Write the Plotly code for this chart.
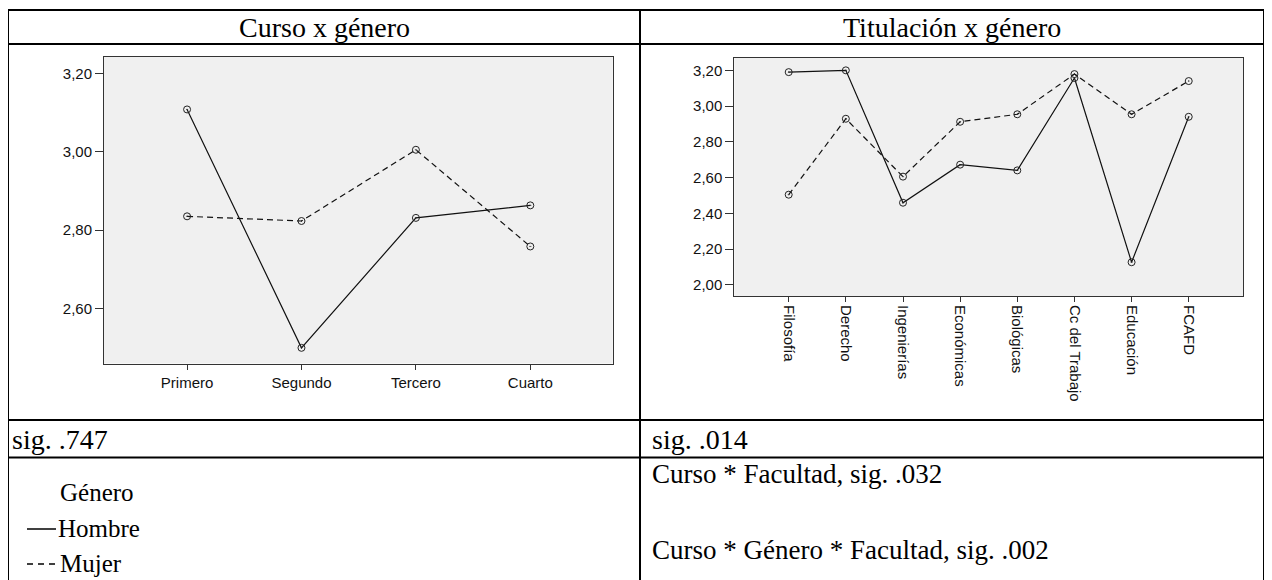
import plotly.graph_objects as go

W, H = 1272, 580
OFF = 8  # page body margin

# ---- data ----
cursos = ["Primero", "Segundo", "Tercero", "Cuarto"]
curso_hombre = [3.108, 2.499, 2.831, 2.863]
curso_mujer = [2.835, 2.823, 3.005, 2.758]

titulaciones = ["Filosofía", "Derecho", "Ingenierías", "Económicas",
                "Biológicas", "Cc del Trabajo", "Educación", "FCAFD"]
tit_hombre = [3.190, 3.200, 2.459, 2.672, 2.640, 3.157, 2.126, 2.940]
tit_mujer = [2.504, 2.929, 2.605, 2.912, 2.954, 3.179, 2.954, 3.140]

left_ticks = [2.60, 2.80, 3.00, 3.20]
right_ticks = [2.00, 2.20, 2.40, 2.60, 2.80, 3.00, 3.20]

titles = ["Curso x género", "Titulación x género"]
sig_texts = ["sig. .747", "sig. .014"]
notes = ["Curso * Facultad, sig. .032", "Curso * Género * Facultad, sig. .002"]
legend_title = "Género"
series_names = ["Hombre", "Mujer"]


def px(x):
    return (x - OFF) / W


def py(y):
    return 1 - (y - OFF) / H


SERIF = "Liberation Serif, Times New Roman, serif"
SANS = "Liberation Sans, Arial, sans-serif"

fig = go.Figure()

marker = dict(symbol="circle-open-dot", size=7, color="#222", line=dict(width=1, color="#222"))

fig.add_trace(go.Scatter(x=cursos, y=curso_hombre, mode="lines+markers", name=series_names[0],
                         line=dict(color="#111", width=1.2), marker=marker, xaxis="x", yaxis="y"))
fig.add_trace(go.Scatter(x=cursos, y=curso_mujer, mode="lines+markers", name=series_names[1],
                         line=dict(color="#111", width=1.2, dash="6px,4px"), marker=marker, xaxis="x", yaxis="y"))
fig.add_trace(go.Scatter(x=titulaciones, y=tit_hombre, mode="lines+markers", name=series_names[0],
                         line=dict(color="#111", width=1.2), marker=marker, xaxis="x2", yaxis="y2"))
fig.add_trace(go.Scatter(x=titulaciones, y=tit_mujer, mode="lines+markers", name=series_names[1],
                         line=dict(color="#111", width=1.2, dash="6px,4px"), marker=marker, xaxis="x2", yaxis="y2"))

axis_common = dict(showgrid=False, zeroline=False, showline=True, linecolor="#333", linewidth=1,
                   mirror=True, ticks="outside", tickcolor="#333",
                   tickfont=dict(family=SANS, size=15, color="#111"))

fig.update_layout(
    width=W, height=H, margin=dict(l=0, r=0, t=0, b=0),
    paper_bgcolor="white", plot_bgcolor="#f0f0f0",
    showlegend=False, separators=",.",
    xaxis=dict(domain=[px(104), px(612.7)], range=[-0.726, 3.72], type="category",
               anchor="y", ticklen=5, **axis_common),
    yaxis=dict(domain=[py(363.5), py(57)], range=[2.459, 3.242], tickvals=left_ticks,
               tickformat=".2f", anchor="x", ticklen=8, **axis_common),
    xaxis2=dict(domain=[px(734.3), px(1243.3)], range=[-0.952, 7.955], type="category",
                tickangle=90, anchor="y2", ticklen=5, **axis_common),
    yaxis2=dict(domain=[py(296), py(58)], range=[1.937, 3.269], tickvals=right_ticks,
                tickformat=".2f", anchor="x2", ticklen=8, **axis_common),
)

# ---- table grid ----
LW = 2
grid = [
    (8, 10, 1264, 10), (8, 44, 1264, 44), (8, 420, 1264, 420), (8, 457.5, 1264, 457.5),
    (8, 10, 8, 590), (640, 10, 640, 590), (1264, 10, 1264, 590),
]
for x0, y0, x1, y1 in grid:
    fig.add_shape(type="line", xref="paper", yref="paper", x0=px(x0), y0=py(y0), x1=px(x1), y1=py(y1),
                  line=dict(color="black", width=LW))

# ---- texts ----
def txt(s, x, y, size, xanchor="left"):
    fig.add_annotation(text=s, x=px(x), y=py(y), xref="paper", yref="paper", showarrow=False,
                       xanchor=xanchor, yanchor="middle", font=dict(family=SERIF, size=size, color="black"))

txt(titles[0], 324, 27, 28, "center")
txt(titles[1], 952, 27, 28, "center")
txt(sig_texts[0], 10, 439, 28)
txt(sig_texts[1], 650, 439, 28)
txt(notes[0], 650, 474, 27)
txt(notes[1], 650, 550, 27)
txt(legend_title, 58, 492, 25)
txt(series_names[0], 56, 528, 25)
txt(series_names[1], 58, 563, 25)

# legend key lines
fig.add_shape(type="line", xref="paper", yref="paper", x0=px(27), x1=px(56), y0=py(529), y1=py(529),
              line=dict(color="black", width=1.5))
fig.add_shape(type="line", xref="paper", yref="paper", x0=px(27), x1=px(57), y0=py(564), y1=py(564),
              line=dict(color="black", width=1.5, dash="6px,5px"))

fig.write_html("out.html")
